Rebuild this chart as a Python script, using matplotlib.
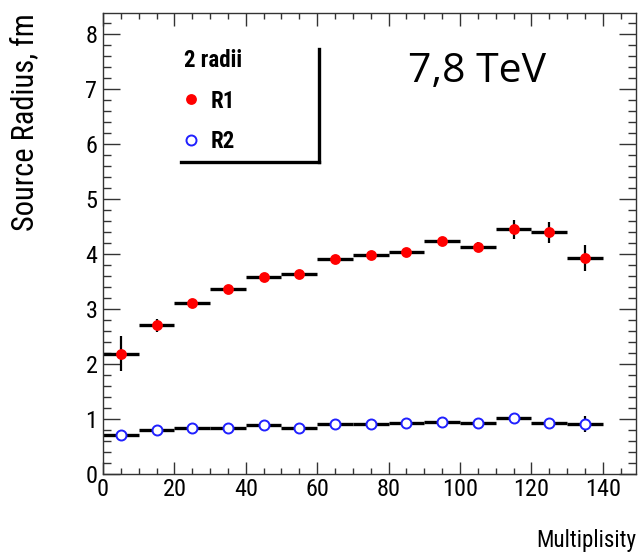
import matplotlib
matplotlib.use("Agg")
import matplotlib.pyplot as plt
from matplotlib import font_manager
from matplotlib.ticker import MultipleLocator
from matplotlib.lines import Line2D

names = {f.name for f in font_manager.fontManager.ttflist}
NARROW = "Liberation Sans"
for cand in ("Liberation Sans Narrow", "Arial Narrow", "Roboto Condensed"):
    if cand in names:
        NARROW = cand
        break

# ---- data ----
mult = [5, 15, 25, 35, 45, 55, 65, 75, 85, 95, 105, 115, 125, 135]
bin_half = [5] * 14
r1 = [2.19, 2.70, 3.11, 3.37, 3.58, 3.64, 3.90, 3.99, 4.04, 4.23, 4.12, 4.45, 4.39, 3.93]
r1_err = [0.31, 0.11, 0.07, 0.06, 0.06, 0.06, 0.06, 0.06, 0.07, 0.07, 0.09, 0.17, 0.19, 0.24]
r2 = [0.70, 0.80, 0.83, 0.83, 0.89, 0.84, 0.90, 0.90, 0.93, 0.95, 0.93, 1.01, 0.93, 0.91]
r2_err = [0.03, 0.03, 0.03, 0.03, 0.03, 0.03, 0.03, 0.03, 0.03, 0.03, 0.03, 0.05, 0.05, 0.14]
x_ticks = [0, 20, 40, 60, 80, 100, 120, 140]
y_ticks = [0, 1, 2, 3, 4, 5, 6, 7, 8]

W, H = 641, 554
fig = plt.figure(figsize=(W / 100, H / 100), dpi=100)
ax = fig.add_axes([103 / W, (H - 474) / H, (636 - 103) / W, (474 - 13) / H])
ax.set_xlim(0, 149.3)
ax.set_ylim(0, 8.38)

for vals, errs in ((r1, r1_err), (r2, r2_err)):
    ax.errorbar(mult, vals, xerr=bin_half, fmt='none', ecolor='black',
                elinewidth=2.4, capsize=0, zorder=2)
    ax.errorbar(mult, vals, yerr=errs, fmt='none', ecolor='black',
                elinewidth=1.6, capsize=0, zorder=2)

ax.plot(mult, r1, 'o', color='#ff0000', markersize=7.8, markeredgewidth=0,
        label='R1', zorder=3)
ax.plot(mult, r2, 'o', markerfacecolor='white', markeredgecolor='#2020ff',
        markersize=7.2, markeredgewidth=1.4, label='R2', zorder=3)

ax.set_xticks(x_ticks)
ax.set_yticks(y_ticks)
ax.xaxis.set_minor_locator(MultipleLocator(5))
ax.yaxis.set_minor_locator(MultipleLocator(0.2))
ax.tick_params(which='both', direction='in', top=True, right=True,
               color='#333333', width=1.0)
ax.tick_params(axis='x', which='major', length=9, pad=3)
ax.tick_params(axis='x', which='minor', length=4.5)
ax.tick_params(axis='y', which='major', length=12, pad=4)
ax.tick_params(axis='y', which='minor', length=6)
for lab in ax.get_xticklabels() + ax.get_yticklabels():
    lab.set_fontfamily(NARROW)
    lab.set_fontsize(17.5)
for s in ax.spines.values():
    s.set_linewidth(1.0)
    s.set_color('#333333')

fig.text(25 / W, 1 - 13 / H, 'Source Radius, fm', rotation=90, ha='center',
         va='top', family=NARROW, fontsize=22)
fig.text(636 / W, 1 - 540 / H, 'Multiplisity', ha='right', va='center',
         family=NARROW, fontsize=16.6)
fig.text(477 / W, 1 - 72 / H, '7,8 TeV', ha='center', va='center',
         family='Open Sans', fontsize=29.5)

leg = ax.legend(loc='upper left', bbox_to_anchor=(166 / W, 1 - 31 / H),
                bbox_transform=fig.transFigure, frameon=False,
                title='2 radii', alignment='left',
                prop={'family': NARROW, 'weight': 'bold', 'size': 16.5},
                title_fontproperties={'family': NARROW, 'weight': 'bold', 'size': 16.5},
                handlelength=0.6, handletextpad=0.55, labelspacing=0.75,
                borderpad=0.3)
# legend shadow lines (right and bottom)
fig.add_artist(Line2D([319 / W, 319 / W], [1 - 49 / H, 1 - 162 / H],
                      transform=fig.transFigure, color='black', lw=2.4))
fig.add_artist(Line2D([181 / W, 319 / W], [1 - 162 / H, 1 - 162 / H],
                      transform=fig.transFigure, color='black', lw=2.4))

fig.savefig('out.png', dpi=100)
